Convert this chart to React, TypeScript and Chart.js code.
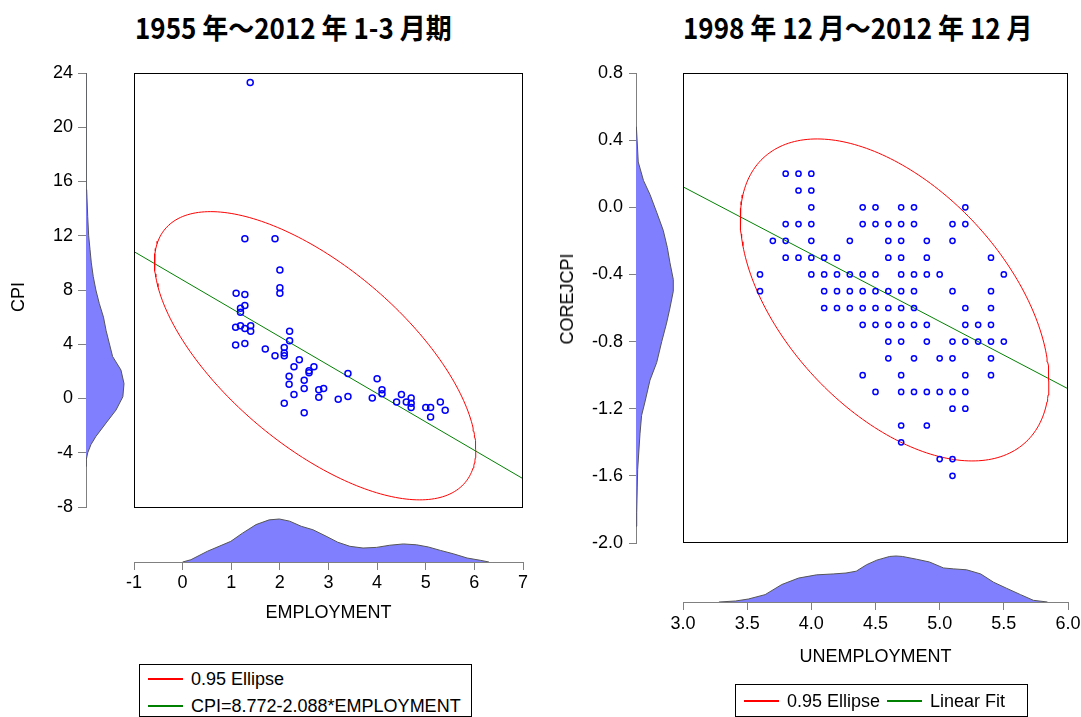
import React, { useEffect, useRef } from "react";
import { Chart, registerables } from "chart.js";

Chart.register(...registerables);

const FONT = "'Liberation Sans', Arial, Helvetica, sans-serif";
const TITLE_FONT = "'Noto Sans CJK JP', 'Noto Sans', sans-serif";
Chart.defaults.font.family = FONT;

// ---------------- Left panel: 1955–2012 ----------------
const leftTitle = "1955 年～2012 年 1-3 月期";
const employment = [
  1.39, 1.28, 1.9, 2.0, 2.0, 2.0, 1.1, 1.28, 1.28, 1.19, 1.19, 1.09, 1.19, 1.28, 1.4, 1.4,
  2.2, 2.2, 1.09, 1.28, 1.7, 1.9, 2.09, 2.09, 2.09, 2.4, 2.29, 2.7, 2.6, 2.6, 2.19, 2.5,
  2.19, 2.29, 2.5, 2.8, 2.9, 2.8, 2.09, 2.5, 3.4, 3.2, 3.4, 4.0, 4.1, 4.1, 3.9, 4.4, 4.5,
  4.6, 4.7, 4.7, 4.7, 5.0, 5.1, 5.1, 5.3, 5.4,
];
const cpi = [
  23.3, 11.8, 11.8, 9.5, 8.2, 7.8, 7.8, 7.7, 6.9, 6.7, 6.4, 5.3, 5.4, 5.2, 5.4, 5.0,
  5.0, 4.3, 4.0, 4.1, 3.7, 3.2, 3.8, 3.4, 3.2, 2.9, 2.4, 2.4, 2.1, 1.95, 1.7, 1.4,
  1.1, 0.35, 0.8, 0.7, 0.8, 0.15, -0.3, -1.0, 1.9, 0.0, 0.2, 1.5, 0.7, 0.4, 0.1, -0.2, 0.35,
  -0.2, 0.1, -0.3, -0.6, -0.6, -0.6, -1.3, -0.2, -0.8,
];
const employmentAxis = { min: -1, max: 7, step: 1 };
const cpiAxis = { min: -8, max: 24, step: 4 };
const cpiFit = { intercept: 8.772, slope: -2.088 };
// 0.95 ellipse: centre and scaled covariance
const cpiEllipse = { cx: 2.725, cy: 3.2, sxx: 10.92, sxy: -22.8, syy: 112.4 };
const cpiDensityAt = [-5.0, -4.5, -4.0, -3.4, -2.8, -1.8, -0.85, 0.13, 1.1, 2.1, 3.1, 4.1, 5.0, 6.0, 7.0, 8.0, 9.0, 10.0, 11.0, 12.0, 13.4, 15.4, 18, 21, 24];
const cpiDensity = [0, 0.008, 0.045, 0.13, 0.26, 0.53, 0.79, 0.97, 1.0, 0.92, 0.7, 0.61, 0.53, 0.46, 0.35, 0.26, 0.19, 0.14, 0.105, 0.07, 0.045, 0.018, 0.008, 0.005, 0.003];
const employmentDensityAt = [0.0, 0.17, 0.51, 0.75, 0.99, 1.23, 1.51, 1.78, 1.99, 2.2, 2.44, 2.68, 2.95, 3.19, 3.44, 3.71, 3.99, 4.26, 4.54, 4.81, 5.05, 5.3, 5.57, 5.85, 6.12, 6.3];
const employmentDensity = [0, 0.053, 0.25, 0.365, 0.48, 0.67, 0.87, 0.98, 1.0, 0.95, 0.83, 0.75, 0.6, 0.46, 0.365, 0.325, 0.34, 0.39, 0.42, 0.4, 0.35, 0.27, 0.19, 0.093, 0.04, 0];
const leftLegend = ["0.95 Ellipse", "CPI=8.772-2.088*EMPLOYMENT"];

// ---------------- Right panel: 1998–2012 ----------------
const rightTitle = "1998 年 12 月～2012 年 12 月";
const unemployment = [
  3.8, 3.9, 4.0,
  3.9, 4.0,
  4.0, 4.4, 4.5, 4.7, 4.8, 5.2,
  3.8, 3.9, 4.0, 4.4, 4.5, 4.6, 4.7, 4.8, 5.1, 5.2,
  3.7, 3.8, 4.0, 4.3, 4.6, 4.7, 4.9, 5.1,
  3.8, 3.9, 4.0, 4.1, 4.2, 4.6, 4.7, 4.9, 5.4,
  3.6, 4.0, 4.1, 4.2, 4.3, 4.4, 4.5, 4.7, 4.8, 4.9, 5.0, 5.5,
  3.6, 4.1, 4.2, 4.3, 4.4, 4.5, 4.6, 4.7, 4.8, 5.1, 5.4,
  4.1, 4.2, 4.3, 4.4, 4.5, 4.6, 4.7, 4.8, 5.2, 5.4,
  4.4, 4.5, 4.6, 4.7, 4.8, 4.9, 5.2, 5.3, 5.4,
  4.6, 4.7, 4.9, 5.1, 5.2, 5.3, 5.4, 5.5,
  4.6, 4.8, 5.0, 5.1, 5.4,
  4.4, 4.7, 5.2, 5.4,
  4.5, 4.7, 4.8, 4.9, 5.0, 5.1, 5.2,
  5.1, 5.2,
  4.7, 4.9,
  4.7,
  5.0, 5.1,
  5.1,
];
const coreJcpi = [
  0.2, 0.2, 0.2,
  0.1, 0.1,
  0.0, 0.0, 0.0, 0.0, 0.0, 0.0,
  -0.1, -0.1, -0.1, -0.1, -0.1, -0.1, -0.1, -0.1, -0.1, -0.1,
  -0.2, -0.2, -0.2, -0.2, -0.2, -0.2, -0.2, -0.2,
  -0.3, -0.3, -0.3, -0.3, -0.3, -0.3, -0.3, -0.3, -0.3,
  -0.4, -0.4, -0.4, -0.4, -0.4, -0.4, -0.4, -0.4, -0.4, -0.4, -0.4, -0.4,
  -0.5, -0.5, -0.5, -0.5, -0.5, -0.5, -0.5, -0.5, -0.5, -0.5, -0.5,
  -0.6, -0.6, -0.6, -0.6, -0.6, -0.6, -0.6, -0.6, -0.6, -0.6,
  -0.7, -0.7, -0.7, -0.7, -0.7, -0.7, -0.7, -0.7, -0.7,
  -0.8, -0.8, -0.8, -0.8, -0.8, -0.8, -0.8, -0.8,
  -0.9, -0.9, -0.9, -0.9, -0.9,
  -1.0, -1.0, -1.0, -1.0,
  -1.1, -1.1, -1.1, -1.1, -1.1, -1.1, -1.1,
  -1.2, -1.2,
  -1.3, -1.3,
  -1.4,
  -1.5, -1.5,
  -1.6,
];
const unemploymentAxis = { min: 3.0, max: 6.0, step: 0.5 };
const coreAxis = { min: -2.0, max: 0.8, step: 0.4 };
const coreFit = { intercept: 1.325, slope: -0.401 };
const coreEllipse = { cx: 4.649, cy: -0.552, sxx: 1.446, sxy: -0.58, syy: 0.92 };
const coreDensityAt = [-1.9, -1.82, -1.56, -1.35, -1.24, -1.16, -1.03, -0.925, -0.8, -0.69, -0.6, -0.5, -0.43, -0.33, -0.24, -0.137, -0.03, 0.076, 0.16, 0.27, 0.4, 0.48];
const coreDensity = [0, 0.019, 0.045, 0.107, 0.15, 0.24, 0.375, 0.555, 0.69, 0.82, 0.91, 1.0, 1.0, 0.91, 0.84, 0.73, 0.555, 0.375, 0.2, 0.06, 0.03, 0.01];
const unemploymentDensityAt = [3.28, 3.41, 3.51, 3.64, 3.77, 3.9, 4.04, 4.17, 4.27, 4.35, 4.43, 4.51, 4.61, 4.66, 4.71, 4.82, 4.92, 5.03, 5.11, 5.21, 5.32, 5.42, 5.52, 5.63, 5.73, 5.84];
const unemploymentDensity = [0, 0.022, 0.065, 0.16, 0.38, 0.52, 0.59, 0.61, 0.63, 0.67, 0.81, 0.91, 0.99, 1.0, 0.99, 0.93, 0.87, 0.74, 0.72, 0.7, 0.61, 0.43, 0.3, 0.16, 0.037, 0];
const rightLegend = ["0.95 Ellipse", "Linear Fit"];

// ---------------- helpers ----------------
type Range = { min: number; max: number; step: number };
type Ell = { cx: number; cy: number; sxx: number; sxy: number; syy: number };

function ellipsePoints(e: Ell) {
  const l11 = Math.sqrt(e.sxx);
  const l21 = e.sxy / l11;
  const l22 = Math.sqrt(e.syy - l21 * l21);
  const pts: { x: number; y: number }[] = [];
  for (let i = 0; i <= 240; i++) {
    const t = (i / 240) * 2 * Math.PI;
    pts.push({ x: e.cx + l11 * Math.cos(t), y: e.cy + l21 * Math.cos(t) + l22 * Math.sin(t) });
  }
  return pts;
}

const framePlugin = {
  id: "frame",
  afterDraw(chart: any) {
    const { ctx, chartArea: a } = chart;
    ctx.save();
    ctx.strokeStyle = "#000";
    ctx.lineWidth = 1;
    ctx.strokeRect(Math.round(a.left) + 0.5, Math.round(a.top) + 0.5, Math.round(a.right - a.left) - 1, Math.round(a.bottom - a.top) - 1);
    ctx.restore();
  },
};

const base = {
  responsive: false,
  maintainAspectRatio: false,
  animation: false as const,
  devicePixelRatio: 1,
  events: [] as any[],
};
const noPlugins = { legend: { display: false }, tooltip: { enabled: false } };

function scatterConfig(xs: number[], ys: number[], xr: Range, yr: Range, ell: Ell, fit: { intercept: number; slope: number }, radius: number): any {
  return {
    type: "scatter",
    data: {
      datasets: [
        {
          data: xs.map((x, i) => ({ x, y: ys[i] })),
          pointRadius: radius,
          pointBorderWidth: 1.5,
          pointBorderColor: "#0000FF",
          pointBackgroundColor: "rgba(0,0,0,0)",
          order: 0,
        },
        {
          data: ellipsePoints(ell),
          showLine: true,
          pointRadius: 0,
          borderColor: "#FF0000",
          borderWidth: 1,
          order: 1,
        },
        {
          data: [
            { x: xr.min, y: fit.intercept + fit.slope * xr.min },
            { x: xr.max, y: fit.intercept + fit.slope * xr.max },
          ],
          showLine: true,
          pointRadius: 0,
          borderColor: "#008000",
          borderWidth: 1,
          order: 2,
        },
      ],
    },
    options: {
      ...base,
      layout: { padding: 0, autoPadding: false },
      plugins: noPlugins,
      scales: {
        x: { type: "linear", display: false, min: xr.min, max: xr.max },
        y: { type: "linear", display: false, min: yr.min, max: yr.max },
      },
    },
    plugins: [framePlugin],
  };
}

const fmt1 = (v: number) => (Math.abs(v) < 1e-9 ? 0 : v).toFixed(1);
const fmt0 = (v: number) => String(Math.round(v));

function vDensityConfig(at: number[], dens: number[], r: Range, densMax: number, axisW: number, tickLen: number, tickPad: number, fmt: (v: number) => string): any {
  return {
    type: "line",
    data: {
      datasets: [
        {
          data: at.map((v, i) => ({ x: dens[i], y: v })),
          borderColor: "#555555",
          borderWidth: 1,
          backgroundColor: "#8080FF",
          fill: "origin",
          pointRadius: 0,
          tension: 0,
        },
      ],
    },
    options: {
      ...base,
      indexAxis: "y",
      layout: { padding: { top: 18, bottom: 18, left: 0, right: 0 }, autoPadding: false },
      plugins: noPlugins,
      scales: {
        x: { type: "linear", display: false, min: 0, max: densMax },
        y: {
          type: "linear",
          position: "left",
          min: r.min,
          max: r.max,
          afterFit: (s: any) => {
            s.width = axisW;
          },
          ticks: { stepSize: r.step, autoSkip: false, color: "#000", font: { family: FONT, size: 18 }, padding: tickPad, callback: (v: any) => fmt(Number(v)) },
          grid: { drawOnChartArea: false, tickLength: tickLen, color: "#808080" },
          border: { color: "#808080" },
        },
      },
    },
  };
}

function hDensityConfig(at: number[], dens: number[], r: Range, densMax: number, axisH: number, padL: number, padR: number, tickPad: number, title: string, titlePad: number, fmt: (v: number) => string): any {
  return {
    type: "line",
    data: {
      datasets: [
        {
          data: at.map((v, i) => ({ x: v, y: dens[i] })),
          borderColor: "#555555",
          borderWidth: 1,
          backgroundColor: "#8080FF",
          fill: "origin",
          pointRadius: 0,
          tension: 0,
        },
      ],
    },
    options: {
      ...base,
      layout: { padding: { top: 0, bottom: 0, left: padL, right: padR }, autoPadding: false },
      plugins: noPlugins,
      scales: {
        x: {
          type: "linear",
          position: "bottom",
          min: r.min,
          max: r.max,
          afterFit: (s: any) => {
            s.height = axisH;
          },
          ticks: { stepSize: r.step, autoSkip: false, maxRotation: 0, color: "#000", font: { family: FONT, size: 18 }, padding: tickPad, callback: (v: any) => fmt(Number(v)) },
          grid: { drawOnChartArea: false, tickLength: 8, color: "#808080" },
          border: { color: "#808080" },
          title: { display: true, text: title, color: "#000", font: { family: FONT, size: 18 }, padding: { top: 0, bottom: titlePad } },
        },
        y: { type: "linear", display: false, min: 0, max: densMax },
      },
    },
  };
}

function ChartCanvas({ x, y, w, h, make }: { x: number; y: number; w: number; h: number; make: () => any }) {
  const ref = useRef<HTMLCanvasElement>(null);
  useEffect(() => {
    const chart = new Chart(ref.current as HTMLCanvasElement, make());
    return () => chart.destroy();
  }, []);
  return <canvas ref={ref} width={w} height={h} style={{ position: "absolute", left: x, top: y, width: w, height: h }} />;
}

function VLabel({ text, cx, cy }: { text: string; cx: number; cy: number }) {
  return (
    <div
      style={{
        position: "absolute",
        left: cx,
        top: cy,
        transform: "translate(-50%, -50%) rotate(-90deg)",
        whiteSpace: "nowrap",
        fontFamily: FONT,
        fontSize: 18,
        lineHeight: "18px",
        color: "#000",
      }}
    >
      {text}
    </div>
  );
}

function LegendItem({ x, y, color, text }: { x: number; y: number; color: string; text: string }) {
  return (
    <>
      <div style={{ position: "absolute", left: x, top: y - 1, width: 35, height: 2, backgroundColor: color }} />
      <div style={{ position: "absolute", left: x + 43, top: y - 9, fontFamily: FONT, fontSize: 18, lineHeight: "18px", whiteSpace: "nowrap", color: "#000" }}>{text}</div>
    </>
  );
}

function Title({ text, x }: { text: string; x: number }) {
  return (
    <div
      style={{
        position: "absolute",
        left: x,
        top: 14,
        fontFamily: TITLE_FONT,
        fontWeight: 700,
        fontSize: 26,
        lineHeight: "26px",
        whiteSpace: "nowrap",
        color: "#000",
        transform: "scaleY(1.1)",
        transformOrigin: "0 50%",
      }}
    >
      {text}
    </div>
  );
}

export default function App() {
  return (
    <div style={{ position: "absolute", left: 0, top: 0, width: 1081, height: 717, overflow: "hidden", background: "#fff" }}>
      <Title text={leftTitle} x={135} />
      <Title text={rightTitle} x={683} />

      {/* Left panel */}
      <ChartCanvas x={134} y={73} w={389} h={435} make={() => scatterConfig(employment, cpi, employmentAxis, cpiAxis, cpiEllipse, cpiFit, 3)} />
      <ChartCanvas x={0} y={55} w={130} h={470} make={() => vDensityConfig(cpiDensityAt, cpiDensity, cpiAxis, 44 / 38, 86, 8, 5, fmt0)} />
      <ChartCanvas x={114} y={512} w={429} h={118} make={() => hDensityConfig(employmentDensityAt, employmentDensity, employmentAxis, 50 / 43, 68, 20, 20, 2.5, "EMPLOYMENT", 6, fmt0)} />
      <VLabel text="CPI" cx={18} cy={297} />
      <div style={{ position: "absolute", left: 139, top: 664, width: 333, height: 53, border: "1px solid #000", boxSizing: "border-box" }} />
      <LegendItem x={148} y={679} color="#FF0000" text={leftLegend[0]} />
      <LegendItem x={148} y={706} color="#008000" text={leftLegend[1]} />

      {/* Right panel */}
      <ChartCanvas x={683} y={73} w={385} h={470} make={() => scatterConfig(unemployment, coreJcpi, unemploymentAxis, coreAxis, coreEllipse, coreFit, 2.6)} />
      <ChartCanvas x={540} y={55} w={144} h={506} make={() => vDensityConfig(coreDensityAt, coreDensity, coreAxis, 48 / 37.3, 96, 7, 6, fmt1)} />
      <ChartCanvas x={663} y={550} w={422} h={126} make={() => hDensityConfig(unemploymentDensityAt, unemploymentDensity, unemploymentAxis, 52 / 46, 74, 20, 17, 3.5, "UNEMPLOYMENT", 8, fmt1)} />
      <VLabel text="COREJCPI" cx={567} cy={299} />
      <div style={{ position: "absolute", left: 735, top: 684, width: 293, height: 33, border: "1px solid #000", boxSizing: "border-box" }} />
      <LegendItem x={744} y={701} color="#FF0000" text={rightLegend[0]} />
      <LegendItem x={887} y={701} color="#008000" text={rightLegend[1]} />
    </div>
  );
}
